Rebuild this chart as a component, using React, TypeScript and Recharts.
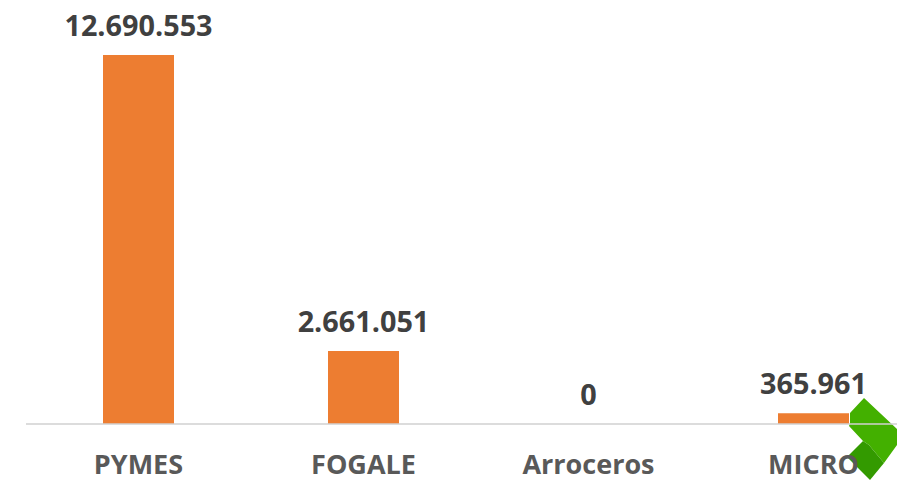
import { ComposedChart, Bar, Line, XAxis, YAxis, LabelList } from 'recharts'

const categories = ['PYMES', 'FOGALE', 'Arroceros', 'MICRO']
// bar heights (FOGALE is drawn a bit shorter than its printed value)
const values = [12690553, 2510000, 0, 365961]
const valueLabels = ['12.690.553', '2.661.051', '0', '365.961']

const data = categories.map((name, i) => ({ name, value: values[i], label: valueLabels[i] }))

const FONT = '"Open Sans", sans-serif'

export default function App() {
  return (
    <div style={{ position: 'absolute', left: 0, top: 0, width: 897, height: 480, overflow: 'hidden', background: '#fff' }}>
      {/* corner arrow badge, sits behind the chart */}
      <svg width={897} height={480} style={{ position: 'absolute', left: 0, top: 0 }}>
        <polygon
          points="850,413 864,398 897,429 897,445 884,463 869,445 863,441 849,426 850,423"
          fill="#43b000"
        />
        <polygon points="863,441 869,445 884,463 870,480 847,457" fill="#339a00" />
      </svg>
      <div style={{ position: 'absolute', left: 0, top: 0 }}>
        <ComposedChart
          width={926}
          height={480}
          data={data}
          margin={{ top: 55, right: 0, bottom: 0, left: 26 }}
        >
          <YAxis hide domain={[0, 12690553]} />
          <XAxis
            dataKey="name"
            interval={0}
            height={56}
            tickLine={false}
            axisLine={{ stroke: '#d0d0d0', strokeWidth: 1.5 }}
            tick={{ fill: '#595959', fontSize: 27, fontWeight: 700, fontFamily: FONT }}
            tickMargin={25}
          />
          <Bar dataKey="value" fill="#ed7d31" barSize={71} isAnimationActive={false} />
          <Line dataKey="value" stroke="none" dot={false} legendType="none" isAnimationActive={false}>
            <LabelList
              dataKey="label"
              position="top"
              offset={19}
              fill="#404040"
              fontSize={28.8}
              fontWeight={700}
              fontFamily={FONT}
            />
          </Line>
        </ComposedChart>
      </div>
    </div>
  )
}
